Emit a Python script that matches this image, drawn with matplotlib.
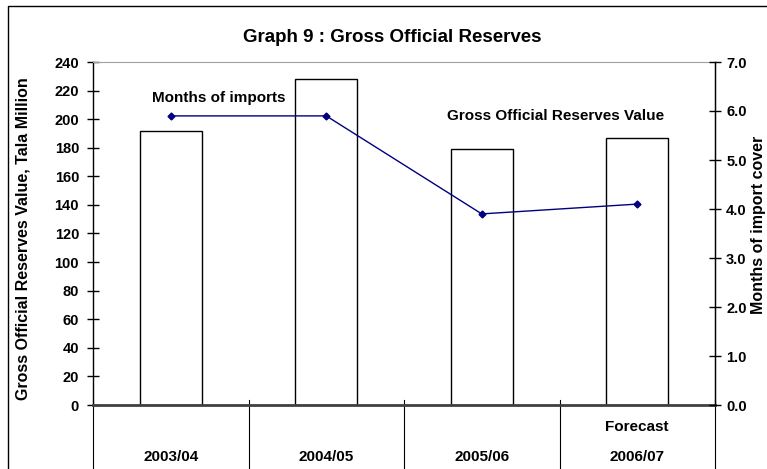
import numpy as np
import matplotlib
matplotlib.use("Agg")
import matplotlib.pyplot as plt
from matplotlib.patches import Rectangle

# Data
years = ["2003/04", "2004/05", "2005/06", "2006/07"]
reserves = [192, 228, 179, 187]          # Tala million
months_cover = [5.9, 5.9, 3.9, 4.1]      # months of import cover
left_ticks = list(range(0, 241, 20))
right_ticks = [0.0, 1.0, 2.0, 3.0, 4.0, 5.0, 6.0, 7.0]

plt.rcParams['font.family'] = ['Liberation Sans', 'DejaVu Sans']
plt.rcParams['font.weight'] = 'bold'

fig = plt.figure(figsize=(7.67, 4.69), dpi=100)
ax = fig.add_axes([93/767, 1 - 405/469, 622/767, 343/469])

x = np.arange(len(years))
ax.bar(x, reserves, width=0.4, color='white', edgecolor='black', linewidth=1.0, zorder=2)
ax.set_xlim(-0.5, len(years) - 0.5)
ax.set_ylim(0, 240)
ax.set_yticks(left_ticks)
ax.set_yticklabels([str(t) for t in left_ticks], fontsize=10.5, fontweight='bold')
ax.tick_params(axis='y', direction='inout', length=8, width=1, pad=6)
ax.set_xticks([])

ax.spines['top'].set_color('#a0a0a0')
ax.spines['bottom'].set_color('#404040')
ax.spines['bottom'].set_linewidth(2)
ax.spines['left'].set_linewidth(1)
ax.spines['right'].set_linewidth(1)

ax.set_ylabel("Gross Official Reserves Value, Tala Million", fontsize=11.5, fontweight='bold')
ax.yaxis.set_label_coords(-0.10, 0.485)

# category separators below the axis
trans = ax.get_xaxis_transform()
for b in np.arange(-0.5, len(years), 1.0):
    ax.plot([b, b], [0.015, -0.25], color='black', lw=0.8, transform=trans, clip_on=False)
for xi, yr in zip(x, years):
    ax.text(xi, -0.152, yr, transform=trans, ha='center', va='center', fontsize=11, fontweight='bold')
ax.text(x[-1], -0.064, "Forecast", transform=trans, ha='center', va='center', fontsize=11, fontweight='bold')

ax2 = ax.twinx()
ax2.plot(x, months_cover, color='#000080', lw=1.0, marker='D', markersize=3.5, zorder=3)
ax2.set_ylim(0, 7)
ax2.set_yticks(right_ticks)
ax2.set_yticklabels([f"{t:.1f}" for t in right_ticks], fontsize=10.5, fontweight='bold')
ax2.tick_params(axis='y', direction='inout', length=8, width=1, pad=4)
ax2.spines['top'].set_visible(False)
ax2.spines['bottom'].set_visible(False)
ax2.spines['left'].set_visible(False)
ax2.set_ylabel("Months of import cover", fontsize=11.5, fontweight='bold', rotation=90)
ax2.yaxis.set_label_coords(1.058, 0.525)

ax.text(0.202, 0.895, "Months of imports", transform=ax.transAxes, ha='center', va='center',
        fontsize=11, fontweight='bold')
ax.text(0.743, 0.843, "Gross Official Reserves Value", transform=ax.transAxes, ha='center', va='center',
        fontsize=11, fontweight='bold')

fig.text(392/767, 1 - 42/469, "Graph 9 : Gross Official Reserves", ha='center', va='baseline',
         fontsize=13.5, fontweight='bold')

# outer chart border
fig.patches.append(Rectangle((8/767, -0.1), 1.2, 1 - 6/469 + 0.1, transform=fig.transFigure,
                             fill=False, edgecolor='black', lw=1.0))

fig.savefig("out.png", dpi=100)
